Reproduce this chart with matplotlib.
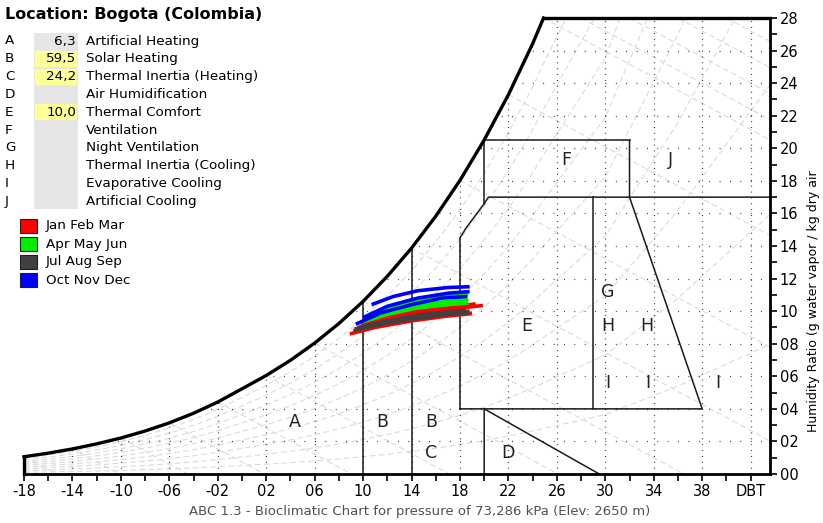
import matplotlib
matplotlib.use("Agg")
import matplotlib.pyplot as plt
from matplotlib.patches import Polygon, Rectangle

# saturation curve (dry bulb degC, g/kg)
sat_t = [-18, -16, -14, -12, -10, -8, -6, -4, -2, 0, 2, 4, 6, 8, 10, 12, 14, 16, 18, 20, 22, 24, 24.9]
sat_w = [1.06, 1.28, 1.54, 1.85, 2.21, 2.64, 3.14, 3.73, 4.42, 5.23, 6.05, 6.98, 8.04, 9.24, 10.6,
         12.14, 13.87, 15.83, 18.03, 20.51, 23.29, 26.42, 28.0]

zone_letters = ["A", "B", "C", "D", "E", "F", "G", "H", "I", "J"]
zone_values = ["6,3", "59,5", "24,2", "", "10,0", "", "", "", "", ""]
zone_names = ["Artificial Heating", "Solar Heating", "Thermal Inertia (Heating)", "Air Humidification",
              "Thermal Comfort", "Ventilation", "Night Ventilation", "Thermal Inertia (Cooling)",
              "Evaporative Cooling", "Artificial Cooling"]

seasons = ["Jan Feb Mar", "Apr May Jun", "Jul Aug Sep", "Oct Nov Dec"]
season_colors = ["#ff0000", "#00ee00", "#404040", "#0000ff"]

# monthly lines (temperature, humidity ratio), three months per season
month_t = [
    [8.9, 11, 14, 17, 19.0], [9.3, 11.5, 14, 17, 19.9], [9.8, 12, 14.5, 17, 19.3],
    [10.2, 12, 14.5, 17, 18.7], [10.5, 12.5, 15, 17, 18.7], [9.8, 12, 14.5, 17, 18.7],
    [9.2, 11.5, 14, 17, 18.7], [9.5, 12, 14.5, 17, 18.8], [9.6, 12, 14.5, 17, 18.5],
    [10.0, 12, 14.5, 17, 18.8], [10.7, 12.5, 14.5, 17, 18.8], [9.4, 11.5, 14, 16.5, 18.6],
]
month_w = [
    [8.6, 9.0, 9.4, 9.7, 9.85], [8.9, 9.4, 9.8, 10.1, 10.35], [9.2, 9.7, 10.0, 10.2, 10.45],
    [9.5, 10.0, 10.4, 10.6, 10.7], [9.8, 10.3, 10.7, 10.9, 11.0], [9.3, 9.8, 10.2, 10.4, 10.5],
    [8.8, 9.2, 9.5, 9.8, 9.9], [8.9, 9.35, 9.65, 9.9, 10.0], [9.0, 9.4, 9.75, 9.95, 10.05],
    [9.6, 10.3, 10.8, 11.1, 11.2], [10.4, 10.9, 11.25, 11.45, 11.5], [9.2, 9.9, 10.4, 10.8, 10.9],
]

# zone boundaries
zone_lines = [
    ([10, 10], [0, 10.6]),
    ([14, 14], [0, 13.87]),
    ([20, 20, 29.5], [0, 4, 0]),
    ([18, 18, 18.5, 19, 19.5, 20, 20.35, 43.6], [4, 14.5, 15.1, 15.6, 16.1, 16.6, 17, 17]),
    ([18, 38, 32, 32], [4, 4, 17, 20.5]),
    ([20, 20, 32], [16.6, 20.5, 20.5]),
    ([29, 29], [4, 17]),
]
zone_labels = [("A", 4.4, 3.2), ("B", 11.6, 3.2), ("B", 15.6, 3.2), ("C", 15.6, 1.3), ("D", 22.0, 1.3),
               ("E", 23.5, 9.1), ("F", 26.8, 19.3), ("J", 35.4, 19.3), ("G", 30.2, 11.2),
               ("H", 30.2, 9.1), ("I", 30.2, 5.6), ("H", 33.4, 9.1), ("I", 33.5, 5.6), ("I", 39.3, 5.6)]

W, H = 823, 523
fig = plt.figure(figsize=(W / 100, H / 100), dpi=100)
ax = fig.add_axes([24 / W, 49 / H, 746 / W, 456 / H])
ax.set_xlim(-18, 43.6)
ax.set_ylim(0, 28)


def px(x, y):
    return x / W, 1 - y / H


# area under saturation curve, used to clip the grid and guide lines
region = Polygon(list(zip(sat_t, sat_w)) + [(43.6, 28), (43.6, 0), (-18, 0)],
                 closed=True, facecolor="none", edgecolor="none", transform=ax.transData)
ax.add_patch(region)

# relative humidity curves and wet bulb lines (light background guides)
guide = dict(color="#dadada", lw=0.8, dashes=(5, 3))
for rh in [0.1, 0.2, 0.3, 0.4, 0.5, 0.6, 0.7, 0.8, 0.9]:
    ln, = ax.plot(sat_t + [30, 36, 44], [w * rh for w in sat_w] + [36.5 * rh, 54 * rh, 81 * rh], **guide)
    ln.set_clip_path(region)
for t0, w0 in zip(sat_t[::2], sat_w[::2]):
    ln, = ax.plot([t0, t0 + w0 / 0.4], [w0, 0], **guide)
    ln.set_clip_path(region)
for t0 in [28, 32, 36, 40]:
    ln, = ax.plot([t0, t0 + 28 / 0.4], [28, 0], **guide)
    ln.set_clip_path(region)

# dotted grid
for gx in range(-18, 43, 4):
    ln, = ax.plot([gx, gx], [0, 28], color="#222222", lw=0.9, linestyle=(0, (0.7, 4.0)))
    ln.set_clip_path(region)
for gy in range(2, 28, 2):
    ln, = ax.plot([-18, 43.6], [gy, gy], color="#222222", lw=0.9, linestyle=(0, (0.7, 7.6)))
    ln.set_clip_path(region)

# zones
for xs, ys in zone_lines:
    ax.plot(xs, ys, color="#1a1a1a", lw=1.1)
for s, x, y in zone_labels:
    ax.text(x, y, s, fontsize=12.5, ha="center", va="center", color="#222222")

# climate data
for i in range(12):
    ax.plot(month_t[i], month_w[i], color=season_colors[i // 3], lw=2.6, solid_capstyle="butt")

# frame
ax.plot(sat_t, sat_w, color="black", lw=2.4, clip_on=False)
ax.plot([24.9, 43.6], [28, 28], color="black", lw=2.4, clip_on=False)
ax.plot([-18, -18], [0, 1.06], color="black", lw=2.4, clip_on=False)
for side in ["top", "left"]:
    ax.spines[side].set_visible(False)
for side in ["right", "bottom"]:
    ax.spines[side].set_linewidth(2)

xt = list(range(-18, 39, 4)) + [42]
ax.set_xticks(xt)
ax.set_xticklabels(["%02d" % v if v >= 0 else "-%02d" % -v for v in xt[:-1]] + ["DBT"])
ax.set_xticks(list(range(-16, 43, 4)), minor=True)
ax.yaxis.tick_right()
ax.set_yticks(range(0, 29, 2))
ax.set_yticklabels(["%02d" % v for v in range(0, 29, 2)])
ax.set_yticks(range(1, 28, 2), minor=True)
ax.tick_params(which="both", direction="out", length=5, width=1.2, labelsize=10.5, pad=2)

fig.text(*px(813, 301), "Humidity Ratio (g water vapor / kg dry air", rotation=90,
         ha="center", va="center", fontsize=9)
fig.text(*px(420, 512), "ABC 1.3 - Bioclimatic Chart for pressure of 73,286 kPa (Elev: 2650 m)",
         ha="center", va="center", fontsize=9.5, color="#505050")

# zone table
fig.text(*px(5, 15), "Location: Bogota (Colombia)", fontsize=11.5, fontweight="bold", va="center")
fig.patches.append(Rectangle(px(34, 209), 44 / W, 176 / H, transform=fig.transFigure,
                             facecolor="#e6e6e6", edgecolor="none"))
for i in range(10):
    yc = 41 + i * 17.8
    fig.text(*px(5, yc), zone_letters[i], fontsize=9.7, va="center")
    if zone_values[i] and i != 0:
        fig.patches.append(Rectangle(px(35, yc + 8), 42 / W, 16 / H, transform=fig.transFigure,
                                     facecolor="#ffff99", edgecolor="none"))
    fig.text(*px(76, yc), zone_values[i], fontsize=9.7, va="center", ha="right")
    fig.text(*px(86, yc), zone_names[i], fontsize=9.7, va="center")

# season legend
for i in range(4):
    yc = 226 + i * 18
    fig.patches.append(Rectangle(px(20, yc + 7), 17 / W, 14 / H, transform=fig.transFigure,
                                 facecolor=season_colors[i], edgecolor="#202020", lw=0.8))
    fig.text(*px(46, yc), seasons[i], fontsize=9.7, va="center")

fig.savefig("out.png", dpi=100)
